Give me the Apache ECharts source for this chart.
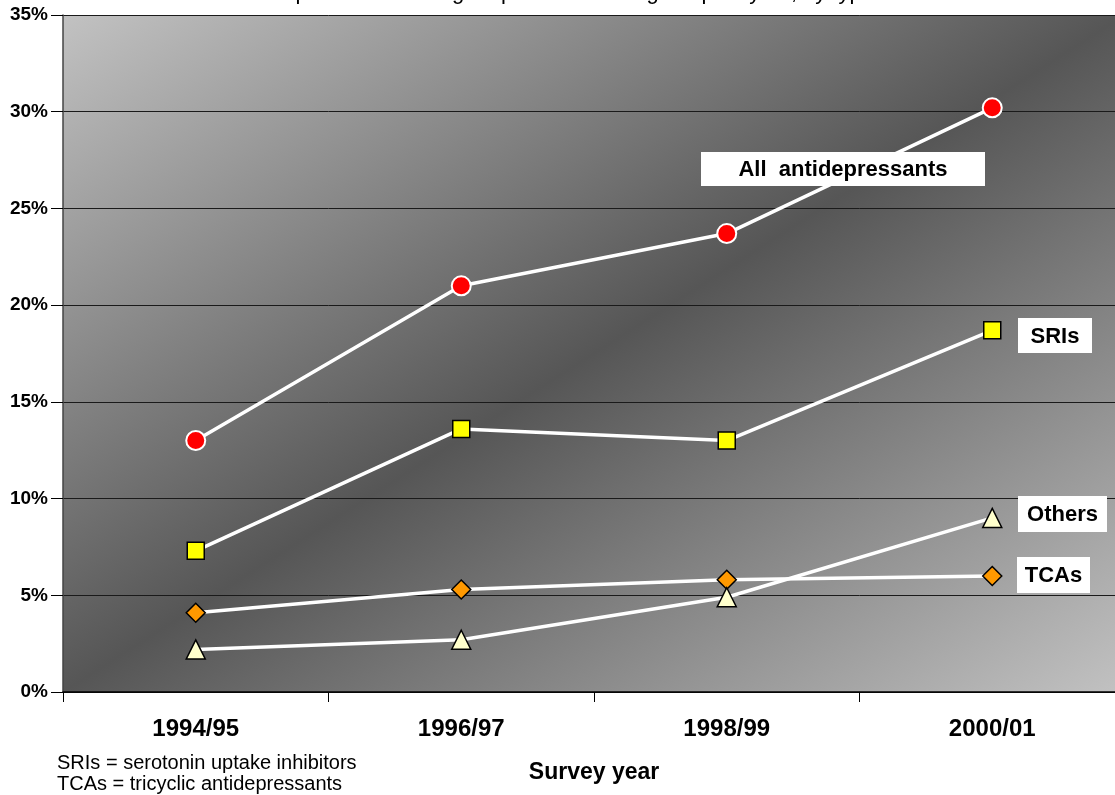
<!DOCTYPE html>
<html>
<head>
<meta charset="utf-8">
<script src="https://cdn.jsdelivr.net/npm/echarts@6/dist/echarts.min.js"></script>
<style>html,body{margin:0;padding:0;background:#fff;overflow:hidden;}#c{width:1125px;height:795px;}</style>
</head>
<body>
<div id="c"></div>
<script>
const categories = ['1994/95', '1996/97', '1998/99', '2000/01'];
const allAntidepressants = [13.0, 21.0, 23.7, 30.2];
const sris = [7.3, 13.6, 13.0, 18.7];
const tcas = [4.1, 5.3, 5.8, 6.0];
const others = [2.2, 2.7, 4.9, 9.0];
const yTicks = { min: 0, max: 35, interval: 5 };

const chart = echarts.init(document.getElementById('c'));
const F = 'Arial, "Liberation Sans", Helvetica, sans-serif';

function labelBox(x, y, w, h, text) {
  return {
    type: 'group', z: 100,
    children: [
      { type: 'rect', z: 100, shape: { x: x, y: y, width: w, height: h }, style: { fill: '#ffffff' } },
      { type: 'text', z: 101, x: x + w / 2, y: y + h / 2 + 1,
        style: { text: text, font: 'bold 22px ' + F, fill: '#000', align: 'center', verticalAlign: 'middle' } }
    ]
  };
}

const option = {
  backgroundColor: '#ffffff',
  animation: false,
  grid: {
    left: 63, top: 15, right: 0, bottom: 103,
    show: true, borderWidth: 0,
    backgroundColor: {
      type: 'linear', x: 0.211, y: -0.211, x2: 0.789, y2: 1.211,
      colorStops: [
        { offset: 0, color: '#c2c2c2' },
        { offset: 0.5, color: '#565656' },
        { offset: 1, color: '#c2c2c2' }
      ]
    }
  },
  xAxis: {
    type: 'category', data: categories, boundaryGap: true,
    name: 'Survey year', nameLocation: 'middle', nameGap: 69,
    nameTextStyle: { fontFamily: F, fontWeight: 'bold', fontSize: 23, color: '#000' },
    axisLine: { lineStyle: { color: '#000', width: 1.5 } },
    axisTick: { show: true, length: 10, interval: 0, lineStyle: { color: '#000', width: 1 } },
    axisLabel: { fontFamily: F, fontWeight: 'bold', fontSize: 24, color: '#000', margin: 25, interval: 0 },
    splitLine: { show: false }
  },
  yAxis: {
    type: 'value', min: yTicks.min, max: yTicks.max, interval: yTicks.interval,
    axisLine: { show: true, lineStyle: { color: '#444', width: 1.5 } },
    axisTick: { show: true, length: 12, lineStyle: { color: '#000' } },
    axisLabel: { formatter: '{value}%', fontFamily: F, fontWeight: 'bold', fontSize: 19, color: '#000', margin: 15 },
    splitLine: { show: true, lineStyle: { color: '#1a1a1a', width: 1 } }
  },
  series: [
    { name: 'TCAs', type: 'line', data: tcas, symbol: 'diamond', symbolSize: 19,
      lineStyle: { color: '#fff', width: 3.5 },
      itemStyle: { color: '#ff9900', borderColor: '#000', borderWidth: 1.5 } },
    { name: 'Others', type: 'line', data: others, symbol: 'triangle', symbolSize: 19,
      lineStyle: { color: '#fff', width: 3.5 },
      itemStyle: { color: '#ffffcc', borderColor: '#000', borderWidth: 1.5 } },
    { name: 'SRIs', type: 'line', data: sris, symbol: 'rect', symbolSize: 17,
      lineStyle: { color: '#fff', width: 3.5 },
      itemStyle: { color: '#ffff00', borderColor: '#000', borderWidth: 1.5 } },
    { name: 'All antidepressants', type: 'line', data: allAntidepressants, symbol: 'circle', symbolSize: 19,
      lineStyle: { color: '#fff', width: 3.5 },
      itemStyle: { color: '#ff0000', borderColor: '#fff', borderWidth: 2 } }
  ],
  graphic: [
    { type: 'text', x: 520, y: 4,
      style: { text: 'Use of antidepressants among respondents during the past year, by type',
        font: '22px ' + F, fill: '#000', align: 'center', verticalAlign: 'bottom' } },
    labelBox(701, 152, 284, 34, 'All  antidepressants'),
    labelBox(1018, 318, 74, 35, 'SRIs'),
    labelBox(1018, 496, 89, 36, 'Others'),
    labelBox(1017, 557, 73, 36, 'TCAs'),
    { type: 'text', x: 57, y: 763,
      style: { text: 'SRIs = serotonin uptake inhibitors', font: '20px ' + F, fill: '#000', align: 'left', verticalAlign: 'middle' } },
    { type: 'text', x: 57, y: 784,
      style: { text: 'TCAs = tricyclic antidepressants', font: '20px ' + F, fill: '#000', align: 'left', verticalAlign: 'middle' } }
  ]
};
chart.setOption(option);
</script>
</body>
</html>
